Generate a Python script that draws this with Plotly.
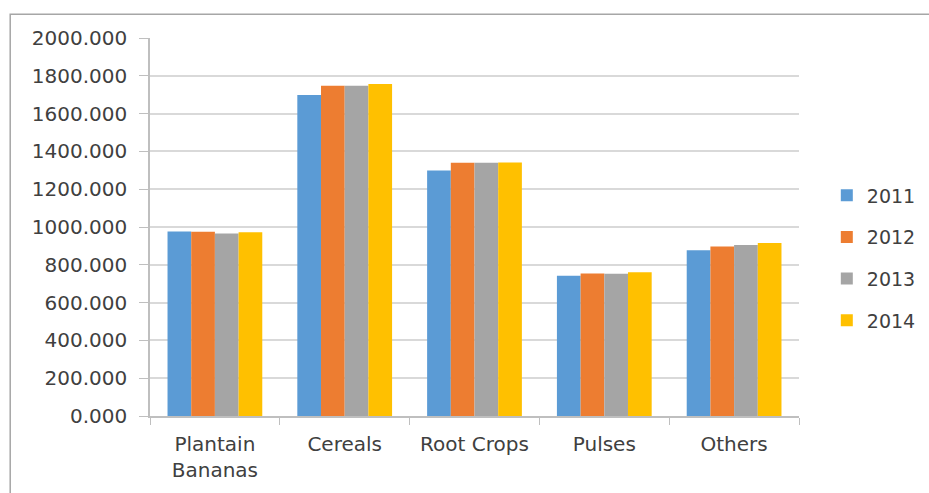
import plotly.graph_objects as go

# Production by crop group and year
categories = ["Plantain<br>Bananas", "Cereals", "Root Crops", "Pulses", "Others"]
years = ["2011", "2012", "2013", "2014"]
values_2011 = [976, 1698, 1299, 742, 877]
values_2012 = [975, 1747, 1340, 754, 897]
values_2013 = [966, 1747, 1340, 753, 905]
values_2014 = [972, 1757, 1341, 761, 916]
y_ticks = [0, 200, 400, 600, 800, 1000, 1200, 1400, 1600, 1800, 2000]

series = [values_2011, values_2012, values_2013, values_2014]
colors = ["#5B9BD5", "#ED7D31", "#A5A5A5", "#FFC000"]

fig = go.Figure()
for year, vals, col in zip(years, series, colors):
    fig.add_trace(go.Bar(
        x=categories, y=vals, name=year, legendgroup=year,
        marker=dict(color=col, line=dict(width=0)),
    ))

font_family = "DejaVu Sans"
text_color = "#404040"
axis_color = "#BFBFBF"

fig.update_layout(
    width=929, height=493,
    margin=dict(l=150, r=130, t=38, b=77),
    paper_bgcolor="white", plot_bgcolor="white",
    barmode="group", bargap=0.27, bargroupgap=0,
    font=dict(family=font_family, size=20, color=text_color),
    legend=dict(
        xref="container", yref="container",
        x=0.89, y=0.477, xanchor="left", yanchor="middle",
        font=dict(family=font_family, size=19, color=text_color),
        tracegroupgap=14, itemwidth=30,
        bgcolor="rgba(0,0,0,0)",
    ),
    showlegend=True,
)

fig.update_xaxes(
    showline=True, linecolor=axis_color, linewidth=1.5,
    ticks="outside", tickson="boundaries", ticklen=7, tickcolor=axis_color,
    ticklabelstandoff=9,
    tickfont=dict(family=font_family, size=20, color=text_color),
    showgrid=False,
)
fig.update_yaxes(
    range=[0, 2000], tickvals=y_ticks, tickformat=".3f",
    showline=True, linecolor=axis_color, linewidth=1.5,
    ticks="outside", ticklen=9, tickcolor=axis_color,
    ticklabelstandoff=8,
    showgrid=True, gridcolor="#D9D9D9", gridwidth=2,
    zeroline=False,
    tickfont=dict(family=font_family, size=20, color=text_color),
)

# Chart frame
fig.add_shape(
    type="rect", xref="paper", yref="paper",
    x0=-0.2154, x1=1.25, y0=-0.3, y1=1.063,
    line=dict(color="#A6A6A6", width=1.5), fillcolor="rgba(0,0,0,0)",
    layer="below",
)

fig.write_html("out.html")
